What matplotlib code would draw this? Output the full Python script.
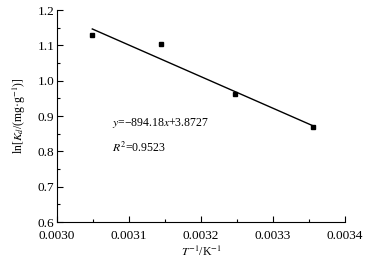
import numpy as np
import matplotlib
matplotlib.use("Agg")
import matplotlib.pyplot as plt
from matplotlib.ticker import MultipleLocator

plt.rcParams["font.family"] = ["Liberation Serif", "DejaVu Serif"]
plt.rcParams["mathtext.fontset"] = "stix"

# 1/T (K^-1) and ln Kd
inv_T = [0.003049, 0.003145, 0.003247, 0.003356]
ln_kd = [1.128, 1.103, 0.962, 0.869]
slope = -894.18
intercept = 3.8727
r2 = 0.9523

fig = plt.figure(figsize=(3.86, 2.60), dpi=100)
ax = fig.add_axes([0.1477, 0.146, 0.7463, 0.8155])

ax.plot(inv_T, ln_kd, "s", color="black", markersize=3.5, linestyle="none")
xf = np.array([inv_T[0], inv_T[-1]])
ax.plot(xf, slope * xf + intercept, color="black", linewidth=1)

ax.set_xlim(0.0030, 0.0034)
ax.set_ylim(0.6, 1.2)
ax.xaxis.set_major_locator(MultipleLocator(0.0001))
ax.xaxis.set_minor_locator(MultipleLocator(0.00005))
ax.yaxis.set_major_locator(MultipleLocator(0.1))
ax.yaxis.set_minor_locator(MultipleLocator(0.05))
ax.set_xticklabels([f"{v:.4f}" for v in ax.get_xticks()])
ax.set_yticklabels([f"{v:.1f}" for v in ax.get_yticks()])
ax.tick_params(which="both", direction="in", labelsize=9.5, width=0.8)
ax.tick_params(which="major", length=4)
ax.tick_params(which="minor", length=2)
ax.tick_params(axis="x", pad=5.5)
ax.tick_params(axis="y", pad=2)
for s in ["top", "right"]:
    ax.spines[s].set_visible(False)

ax.set_xlabel(r"$T^{-1}$/K$^{-1}$", fontsize=8.5, labelpad=2)
ax.set_ylabel(r"ln[$K_d$/(mg·g$^{-1}$)]", fontsize=8.5, labelpad=7)

ax.text(0.003076, 0.88, r"$y$=−894.18$x$+3.8727", fontsize=8.5, va="center")
ax.text(0.003076, 0.81, r"$R^2$=0.9523", fontsize=8.5, va="center")

fig.savefig("out.png", dpi=100)
